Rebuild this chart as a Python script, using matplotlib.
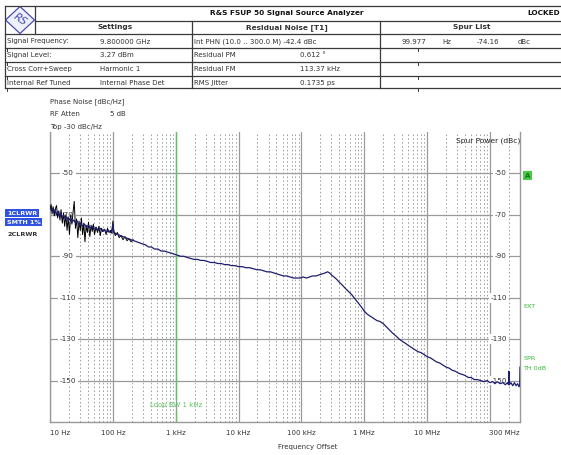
"""R&S FSUP 50 phase noise screenshot, redrawn with matplotlib."""

import matplotlib

matplotlib.use("Agg")
import matplotlib.pyplot as plt
from matplotlib.lines import Line2D
from matplotlib.patches import Polygon

W, H = 561, 455

# Trace 1 (blue, smoothed): offset frequency in Hz / phase noise in dBc/Hz.
# Each line of frequencies pairs with the same line of levels.
trace1_freq = [
    10, 10.5, 11, 11.5, 12, 12.6, 13.2, 14, 14.8, 15.6, 16.5, 17.5, 18.5, 19.6,
    21, 22.5, 24, 25.5, 27, 29, 31, 33, 35.5, 38, 41, 44, 47, 50, 54, 58, 63, 68,
    73, 79, 85, 92, 97, 100, 103, 110, 120, 132, 145, 160, 175, 195, 215, 240,
    265, 295, 330, 370, 410, 460, 520, 590, 660, 750, 850, 950, 1050, 1200, 1350,
    1500, 1700, 1950, 2200, 2500, 2800, 3200, 3600, 4100, 4700, 5300, 6000, 6800,
    7700, 8700, 10000, 11500, 13000, 15000, 17000, 19500, 22000, 25000, 28000,
    32000, 36000, 41000, 46000, 52000, 59000, 66000, 75000, 85000, 95000, 107000,
    120000, 135000, 150000, 170000, 190000, 215000, 240000, 260000, 280000,
    300000, 330000, 360000, 400000, 450000, 500000, 560000, 630000, 710000,
    800000, 900000, 1.0e6, 1.12e6, 1.26e6, 1.41e6, 1.58e6, 1.78e6, 2.0e6, 2.24e6,
    2.5e6, 2.8e6, 3.2e6, 3.6e6, 4.0e6, 4.5e6, 5.0e6, 5.6e6, 6.3e6, 7.1e6, 8.0e6,
    9.0e6, 1.0e7, 1.12e7, 1.26e7, 1.41e7, 1.58e7, 1.78e7, 2.0e7, 2.24e7, 2.5e7,
    2.8e7, 3.2e7, 3.6e7, 4.0e7, 4.5e7, 5.0e7, 5.6e7, 6.3e7, 7.1e7, 8.0e7, 9.0e7,
    1.0e8, 1.1e8, 1.2e8, 1.3e8, 1.45e8, 1.6e8, 1.75e8, 1.9e8, 1.97e8, 2.0e8,
    2.03e8, 2.15e8, 2.3e8, 2.45e8, 2.6e8, 2.75e8, 2.9e8, 2.97e8, 3.0e8,
]
trace1_dbc = [
    -66.5, -68.0, -67.0, -69.0, -67.5, -70.0, -68.5, -70.5, -69.0, -71.5, -70.0, -72.0, -71.0, -73.0,
    -71.5, -73.5, -72.5, -74.0, -73.0, -75.0, -74.0, -75.5, -74.5, -76.0, -75.0, -76.5, -75.5, -77.0, -76.0, -77.5, -76.5, -78.0,
    -77.0, -78.5, -77.5, -78.5, -77.0, -74.5, -78.0, -79.0, -79.5, -80.0, -80.5, -81.0, -81.5, -82.0, -82.5, -83.0,
    -83.5, -84.0, -84.5, -85.5, -85.5, -86.5, -86.5, -87.5, -87.5, -88.0, -88.5, -89.0, -89.5, -90.0, -90.0,
    -90.5, -91.0, -91.5, -91.5, -92.0, -92.0, -92.5, -93.0, -93.0, -93.5, -93.5, -94.0, -94.0,
    -94.5, -94.5, -95.0, -95.0, -95.5, -95.5, -96.0, -96.5, -96.5, -97.0, -97.5,
    -97.5, -98.0, -98.5, -99.0, -99.5, -99.5, -100.0, -100.5, -100.5, -100.5, -100.0,
    -100.5, -100.0, -99.5, -99.5, -99.0, -98.5, -98.0, -97.5, -98.0,
    -99.0, -100.0, -101.0, -102.5, -104.0, -105.5, -107.0, -108.5, -110.5,
    -112.5, -114.5, -116.5, -118.0, -119.0, -120.0, -121.0, -121.5, -122.5, -124.0,
    -125.5, -127.0, -128.5, -130.0, -131.0, -132.0, -133.0, -134.0, -135.0, -136.0, -136.5,
    -137.5, -138.5, -139.0, -140.0, -141.0, -141.5, -142.5, -143.5, -144.0, -145.0,
    -145.5, -146.5, -147.0, -147.5, -148.5, -148.5, -149.5, -149.5, -150.0, -150.5, -150.0,
    -151.0, -150.5, -151.5, -150.5, -151.5, -151.0, -152.0, -151.0, -152.0, -145.5,
    -152.0, -151.0, -152.5, -151.0, -152.5, -151.5, -153.0, -152.0, -143.5,
]

# Trace 2 (black, unsmoothed) only shows beside the blue one at low offsets
trace2_freq = [
    10, 10.4, 10.8, 11.2, 11.7, 12.2, 12.7, 13.2, 13.8, 14.4, 15, 15.7, 16.4,
    17.1, 17.9, 18.7, 19.5, 20.4, 21.3, 22.3, 23.3, 24.3, 25.4, 26.5, 27.7, 29,
    30.3, 31.6, 33, 34.5, 36, 37.6, 39.3, 41, 43, 45, 47, 49, 51, 54, 57, 60,
    63, 66, 70, 74, 78, 82, 87, 92, 97, 100, 104, 110, 118, 126, 135, 145, 156,
    168, 180, 195, 210,
]
trace2_dbc = [
    -67.0, -65.0, -69.5, -66.0, -70.5, -67.0, -65.5, -71.5, -68.0, -72.5, -67.5, -74.0, -69.0,
    -75.5, -70.0, -77.5, -71.0, -79.5, -70.0, -74.5, -68.5, -63.5, -76.5, -72.0, -81.0, -73.0,
    -77.5, -71.5, -79.5, -74.0, -83.0, -75.0, -78.5, -73.5, -80.5, -75.0, -78.0, -74.5, -79.5, -76.0, -78.5, -75.5,
    -80.0, -76.5, -78.0, -77.0, -79.5, -76.5, -78.5, -77.5, -79.0, -73.0, -78.5, -80.0, -78.5, -81.0, -80.0, -82.0, -80.5,
    -82.5, -81.5, -83.0, -82.0,
]

grid_levels = [-50, -70, -90, -110, -130, -150]
decades = [10, 100, 1e3, 1e4, 1e5, 1e6, 1e7, 1e8]
tick_freqs = [10, 100, 1e3, 1e4, 1e5, 1e6, 1e7, 3e8]
tick_labels = ["10 Hz", "100 Hz", "1 kHz", "10 kHz", "100 kHz", "1 MHz",
               "10 MHz", "300 MHz"]
loop_bw = 1e3

_INK = "#333333"
_LINE = "#3a3a3a"
_GRID = "#9a9a9a"
_MINOR = "#858585"
_GREEN = "#5cc85c"
_BLUE = "#1e1e6e"
_FONT = "DejaVu Sans"


def fx(x):
    return x / W


def fy(y):
    return 1 - y / H


def hline(fig, x0, x1, y, color=_LINE, lw=0.9):
    fig.add_artist(Line2D([fx(x0), fx(x1)], [fy(y), fy(y)], color=color, lw=lw))


def vline(fig, x, y0, y1, color=_LINE, lw=0.9):
    fig.add_artist(Line2D([fx(x), fx(x)], [fy(y0), fy(y1)], color=color, lw=lw))


def put(fig, x, y, s, size=5, ha="left", weight="normal", color=_INK, **kw):
    fig.text(fx(x), fy(y), s, fontsize=size, ha=ha, va="center",
             fontweight=weight, color=color, family=_FONT, **kw)


plt.rcParams["font.family"] = _FONT
fig = plt.figure(figsize=(W / 100, H / 100), dpi=100)
fig.patch.set_facecolor("white")

# ---- header table -------------------------------------------------------
hline(fig, 5, W, 6)
hline(fig, 35, W, 20.7)
for y in (34.3, 48.3, 61.7, 75.7, 88.3):
    hline(fig, 5, W, y)
vline(fig, 5, 6, 88.3)
vline(fig, 35, 6, 34.3)
vline(fig, 192, 20.7, 88.3)
vline(fig, 380, 20.7, 88.3)
for y in (48.3, 61.7, 75.7, 88.3):
    for x in (7, 418):
        vline(fig, x, y, y + 3, lw=0.7)

# R&S logo diamond
fig.add_artist(Polygon([(fx(20), fy(6.5)), (fx(34.5), fy(20)), (fx(20), fy(33.5)),
                        (fx(5.5), fy(20))], closed=True, facecolor="#eef0fb",
                       edgecolor="#4a4ab0", lw=0.9, transform=fig.transFigure))
put(fig, 20, 20, "RS", size=7.5, ha="center", color="#4a4ab0", rotation=-35,
    style="italic")

put(fig, 287, 13, "R&S FSUP 50 Signal Source Analyzer", size=5.3, ha="center",
    weight="bold", color="#111111")
put(fig, 560, 13, "LOCKED", size=5.3, ha="right", weight="bold", color="#111111")
put(fig, 115, 27.5, "Settings", size=5.3, ha="center", weight="bold")
put(fig, 287, 27.5, "Residual Noise [T1]", size=5.3, ha="center", weight="bold")
put(fig, 472, 27.5, "Spur List", size=5.3, ha="center", weight="bold")

rows = [
    ("Signal Frequency:", "9.800000 GHz", "Int PHN (10.0 .. 300.0 M) -42.4 dBc", ""),
    ("Signal Level:", "3.27 dBm", "Residual PM", "0.612 °"),
    ("Cross Corr+Sweep", "Harmonic 1", "Residual FM", "113.37 kHz"),
    ("Internal Ref Tuned", "Internal Phase Det", "RMS Jitter", "0.1735 ps"),
]
for i, (a, b, c, d) in enumerate(rows):
    y = 41.5 + 13.8 * i
    put(fig, 7, y, a)
    put(fig, 100, y, b)
    put(fig, 194, y, c)
    if d:
        put(fig, 300, y, d)
spur = ["99.977", "Hz", "-74.16", "dBc"]
for x, s in zip((402, 442, 477, 518), spur):
    put(fig, x, 41.5, s)

# ---- trace info above the diagram --------------------------------------
put(fig, 50, 102, "Phase Noise [dBc/Hz]")
put(fig, 50, 114.5, "RF Atten")
put(fig, 110, 114.5, "5 dB")
put(fig, 50, 126.5, "Top -30 dBc/Hz")

put(fig, 7, 213.3, "1CLRWR", size=4.6, color="white", weight="bold",
    bbox=dict(boxstyle="square,pad=0.25", facecolor="#2f52e0", edgecolor="none"))
put(fig, 7, 222, "SMTH 1%", size=4.6, color="white", weight="bold",
    bbox=dict(boxstyle="square,pad=0.25", facecolor="#2f52e0", edgecolor="none"))
put(fig, 7, 234.3, "2CLRWR", size=4.6, weight="bold")

# ---- diagram ------------------------------------------------------------
ax = fig.add_axes([fx(50), fy(422), (520 - 50) / W, (422 - 132) / H])
ax.set_xscale("log")
ax.set_xlim(10, 3e8)
ax.set_ylim(-170, -30)

for d in decades:
    for m in range(2, 10):
        if d * m < 3e8:
            ax.axvline(d * m, color=_MINOR, lw=0.55, ls=(0, (2, 3)), zorder=1)
    ax.axvline(d, color=_GRID, lw=0.9, zorder=1)
for lv in grid_levels:
    ax.axhline(lv, color=_GRID, lw=0.9, zorder=1)

ax.plot(trace2_freq, trace2_dbc, color="black", lw=0.7, zorder=3)
ax.plot(trace1_freq, trace1_dbc, color=_BLUE, lw=0.9, zorder=4)

# loop bandwidth marker
ax.plot([loop_bw, loop_bw], [-30, -159], color=_GREEN, lw=1.0, zorder=2)
ax.plot([loop_bw, loop_bw], [-164.5, -170], color=_GREEN, lw=1.0, zorder=2)
ax.text(loop_bw, -162, "Loop BW 1 kHz", fontsize=5, color=_GREEN, ha="center",
        va="center", zorder=5)

# level labels sit on the grid lines, under the traces
ytr = ax.get_yaxis_transform()
for lv in grid_levels:
    ax.text(0.038, lv, f"{lv}", transform=ytr, fontsize=5.2, color=_INK,
            ha="center", va="center", zorder=2,
            bbox=dict(boxstyle="square,pad=0.25", facecolor="white",
                      edgecolor="none"))
    ax.text(0.972, lv, f"{lv}", transform=ytr, fontsize=5.2, color=_INK,
            ha="right", va="center", zorder=2,
            bbox=dict(boxstyle="square,pad=0.25", facecolor="white",
                      edgecolor="none"))
ax.text(1.0, 0.97, "Spur Power (dBc)", transform=ax.transAxes, fontsize=5.4,
        color="#222222", ha="right", va="center", zorder=5)

ax.set_yticks([])
ax.set_xticks(tick_freqs, tick_labels)
ax.minorticks_off()
ax.tick_params(axis="x", length=0, pad=6, labelsize=5, colors=_INK)
xl = ax.get_xticklabels()
xl[0].set_ha("left")
xl[-1].set_ha("right")
ax.spines["top"].set_visible(False)
for s in ("left", "right", "bottom"):
    ax.spines[s].set_color(_GRID)
    ax.spines[s].set_linewidth(1.0)

put(fig, 278, 446.5, "Frequency Offset")

# status markers at the right edge
put(fig, 525, 175.5, "A", size=5, color="#1d6b1d", weight="bold",
    bbox=dict(boxstyle="square,pad=0.25", facecolor="#44cc44", edgecolor="none"))
put(fig, 523, 307, "EXT", size=4.6, color="#33bb33")
put(fig, 524, 359, "SPR", size=4.6, color="#33bb33")
put(fig, 523, 368, "TH 0dB", size=4.6, color="#33bb33")

fig.savefig("out.png", dpi=100, facecolor="white")
